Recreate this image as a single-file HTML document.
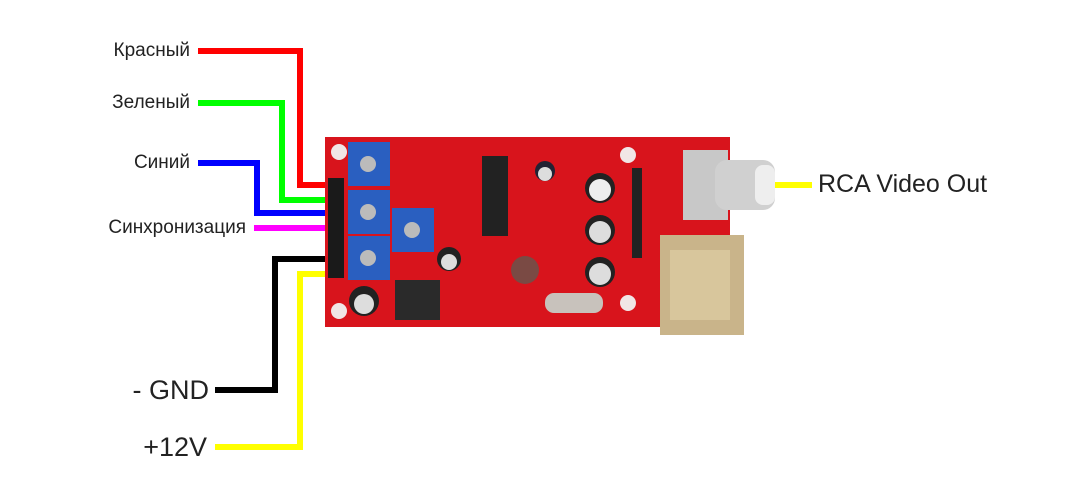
<!DOCTYPE html>
<html><head><meta charset="utf-8"><style>
body{margin:0;width:1082px;height:500px;background:#fff;overflow:hidden;position:relative;font-family:"Liberation Sans","DejaVu Sans",sans-serif}
.l{position:absolute;color:#222;white-space:nowrap;line-height:1}
</style></head><body>
<svg width="1082" height="500" style="position:absolute;left:0;top:0">
<g fill="none" stroke-width="6" stroke-linejoin="miter">
<polyline points="198,51 300,51 300,185 325,185" stroke="#ff0000"/>
<polyline points="198,103 282,103 282,200 325,200" stroke="#00ff00"/>
<polyline points="198,163 257,163 257,213 325,213" stroke="#0000ff"/>
<polyline points="254,228 325,228" stroke="#ff00ff"/>
<polyline points="325,259 275,259 275,390 215,390" stroke="#000"/>
<polyline points="325,274 300,274 300,447 215,447" stroke="#ffff00"/>
<polyline points="775,185 812,185" stroke="#ffff00"/>
</g>
<!-- board -->
<rect x="325" y="137" width="340" height="190" fill="#d8141c"/>
<rect x="660" y="137" width="70" height="100" fill="#d8141c"/>
<circle cx="339" cy="152" r="8" fill="#f1e6e6"/><circle cx="339" cy="311" r="8" fill="#f1e6e6"/>
<circle cx="628" cy="155" r="8" fill="#f1e6e6"/><circle cx="628" cy="303" r="8" fill="#f1e6e6"/>
<!-- header pins -->
<rect x="328" y="178" width="16" height="100" fill="#1a1a1a"/>
<!-- pots -->
<rect x="348" y="142" width="42" height="44" fill="#2a5fc0"/>
<rect x="348" y="190" width="42" height="44" fill="#2a5fc0"/>
<rect x="348" y="236" width="42" height="44" fill="#2a5fc0"/>
<rect x="392" y="208" width="42" height="44" fill="#2a5fc0"/>
<circle cx="368" cy="164" r="8" fill="#bbb"/><circle cx="368" cy="212" r="8" fill="#bbb"/><circle cx="368" cy="258" r="8" fill="#bbb"/><circle cx="412" cy="230" r="8" fill="#bbb"/>
<!-- chip -->
<rect x="482" y="156" width="26" height="80" fill="#222"/>
<!-- caps -->
<circle cx="545" cy="171" r="10" fill="#223"/><circle cx="545" cy="174" r="7" fill="#ddd"/>
<circle cx="600" cy="188" r="15" fill="#222"/><circle cx="600" cy="190" r="11" fill="#eee"/>
<circle cx="600" cy="230" r="15" fill="#222"/><circle cx="600" cy="232" r="11" fill="#ddd"/>
<circle cx="600" cy="272" r="15" fill="#222"/><circle cx="600" cy="274" r="11" fill="#ddd"/>
<circle cx="449" cy="259" r="12" fill="#222"/><circle cx="449" cy="262" r="8" fill="#ddd"/>
<circle cx="364" cy="301" r="15" fill="#222"/><circle cx="364" cy="304" r="10" fill="#ddd"/>
<rect x="395" y="280" width="45" height="40" fill="#2a2a2a"/>
<circle cx="525" cy="270" r="14" fill="#7a4a44"/>
<rect x="545" y="293" width="58" height="20" rx="9" fill="#c8c2bc"/>
<rect x="632" y="168" width="10" height="90" fill="#222"/>
<!-- RCA jack -->
<rect x="683" y="150" width="45" height="70" fill="#c8c8c8"/>
<rect x="715" y="160" width="60" height="50" rx="12" fill="#d0d0d0"/>
<rect x="755" y="165" width="20" height="40" rx="8" fill="#eee"/>
<!-- USB -->
<rect x="660" y="235" width="84" height="100" fill="#c9b48a"/>
<rect x="670" y="250" width="60" height="70" fill="#d8c69c"/>
</svg>
<div class="l" style="right:892px;top:41px;font-size:19px">Красный</div>
<div class="l" style="right:892px;top:93px;font-size:19px">Зеленый</div>
<div class="l" style="right:892px;top:153px;font-size:19px">Синий</div>
<div class="l" style="right:836px;top:218px;font-size:19px">Синхронизация</div>
<div class="l" style="right:873px;top:377px;font-size:27px">- GND</div>
<div class="l" style="right:875px;top:434px;font-size:27px">+12V</div>
<div class="l" style="left:818px;top:172px;font-size:25px">RCA Video Out</div>
</body></html>
